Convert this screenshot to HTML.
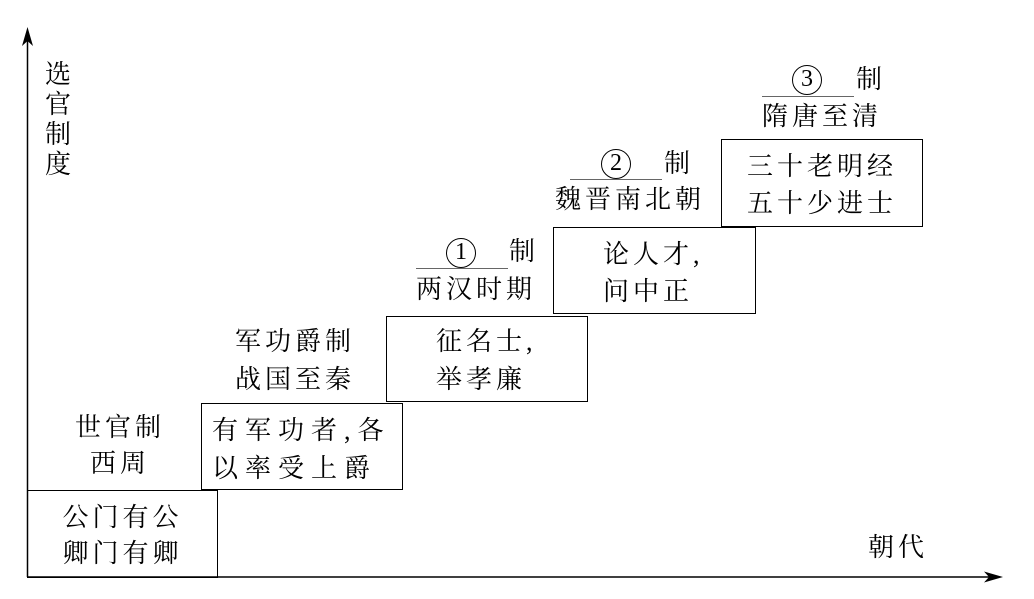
<!DOCTYPE html>
<html><head><meta charset="utf-8"><style>
body{margin:0;width:1034px;height:599px;background:#fff;position:relative;overflow:hidden;font-family:"Liberation Serif","Noto Serif CJK SC","Noto Serif CJK",serif;color:#000}
.t{position:absolute;font-size:26px;line-height:30px;letter-spacing:4px;white-space:nowrap}
.b{position:absolute;border:1.3px solid #000;box-sizing:border-box}
.c{text-align:center}
.u{position:absolute;height:0;border-top:1.5px solid #666}
.n{position:absolute;width:30px;height:30px;border:1.5px solid #000;border-radius:50%;box-sizing:border-box;font-size:24px;line-height:27px;text-align:center}
</style></head><body>
<svg width="1034" height="599" style="position:absolute;left:0;top:0">
<line x1="27.5" y1="577" x2="27.5" y2="36" stroke="#000" stroke-width="1.5"/>
<path d="M27.5 27 L22 46 L27.5 41 L33 46 Z" fill="#000"/>
<line x1="27" y1="577" x2="995" y2="577" stroke="#000" stroke-width="1.5"/>
<path d="M1003 577 L984 571.5 L989 577 L984 582.5 Z" fill="#000"/>
</svg>
<div class="t" style="left:45px;top:60px;width:30px;line-height:30px;white-space:normal;letter-spacing:0">选<br>官<br>制<br>度</div>
<div class="t" style="left:868px;top:533px">朝代</div>

<div class="b" style="left:27px;top:490px;width:191px;height:88px"></div>
<div class="t c" style="left:27px;top:500px;width:191px;line-height:36px">公门有公<br>卿门有卿</div>

<div class="b" style="left:201px;top:403px;width:202px;height:87px"></div>
<div class="t" style="left:212px;top:412px;line-height:38px;letter-spacing:7px">有军功者,各<br>以率受上爵</div>
<div class="t c" style="left:50px;top:410px;width:140px;line-height:36px">世官制<br>西周</div>

<div class="b" style="left:386px;top:316px;width:202px;height:86px"></div>
<div class="t" style="left:436px;top:323px;line-height:38px">征名士,<br>举孝廉</div>
<div class="t c" style="left:220px;top:323px;width:150px;line-height:38px">军功爵制<br>战国至秦</div>

<div class="b" style="left:553px;top:227px;width:203px;height:87px"></div>
<div class="t" style="left:603px;top:236px;line-height:37px">论人才,<br>问中正</div>
<div class="u" style="left:416px;top:268px;width:92px"></div>
<div class="n" style="left:446px;top:238px">1</div>
<div class="t" style="left:509px;top:237px">制</div>
<div class="t c" style="left:401px;top:275px;width:150px">两汉时期</div>

<div class="b" style="left:721px;top:139px;width:202px;height:88px"></div>
<div class="t c" style="left:721px;top:148px;width:202px;line-height:37px">三十老明经<br>五十少进士</div>
<div class="u" style="left:570px;top:179px;width:92px"></div>
<div class="n" style="left:601px;top:149px">2</div>
<div class="t" style="left:664px;top:149px">制</div>
<div class="t c" style="left:545px;top:185px;width:170px">魏晋南北朝</div>

<div class="u" style="left:762px;top:96px;width:92px"></div>
<div class="n" style="left:792px;top:65px">3</div>
<div class="t" style="left:856px;top:65px">制</div>
<div class="t c" style="left:747px;top:102px;width:150px">隋唐至清</div>
</body></html>
